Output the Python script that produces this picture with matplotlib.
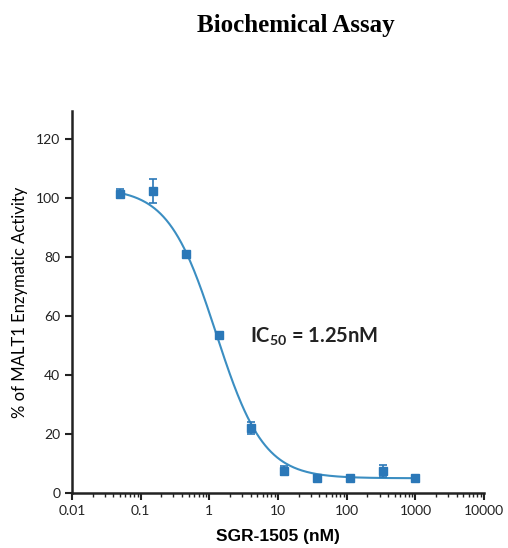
import numpy as np
import matplotlib.pyplot as plt
from matplotlib.ticker import LogLocator, FixedLocator, NullFormatter

# data
conc_nm = [0.05, 0.15, 0.45, 1.37, 4.1, 12.3, 37, 111, 333, 1000]
activity = [101.5, 102.5, 81, 53.5, 22, 7.5, 5, 5, 7.5, 5]
activity_err = [1.5, 4, 0.8, 0.8, 2, 1.5, 0.6, 0.6, 2, 0.6]

# 4-parameter logistic fit parameters
fit_top = 103.5
fit_bottom = 5.0
fit_ic50 = 1.25
fit_hill = 1.25

x_ticks = [0.01, 0.1, 1, 10, 100, 1000, 10000]
x_ticklabels = ['0.01', '0.1', '1', '10', '100', '1000', '10000']
y_ticks = [0, 20, 40, 60, 80, 100, 120]

blue_pt = '#2b78b8'
blue_line = '#3b8ec2'

plt.rcParams['mathtext.fontset'] = 'custom'
plt.rcParams['mathtext.rm'] = 'Lato'
plt.rcParams['mathtext.it'] = 'Lato'
plt.rcParams['mathtext.bf'] = 'Lato:bold'

fig = plt.figure(figsize=(5.08, 5.48), dpi=100)
ax = fig.add_axes([0.1417, 0.1004, 0.8113, 0.6966])

xs = np.logspace(np.log10(0.05), np.log10(1000), 300)
ys = fit_bottom + (fit_top - fit_bottom) / (1 + (xs / fit_ic50) ** fit_hill)
ax.plot(xs, ys, color=blue_line, lw=1.5, zorder=2)

ax.errorbar(conc_nm, activity, yerr=activity_err, fmt='s', color=blue_pt,
            ms=5.5, capsize=3, elinewidth=1.2, capthick=1.2, zorder=3)

ax.set_xscale('log')
ax.set_xlim(0.01, 10000)
ax.set_ylim(0, 129.5)
ax.xaxis.set_major_locator(FixedLocator(x_ticks))
ax.set_xticklabels(x_ticklabels)
ax.xaxis.set_minor_locator(LogLocator(base=10, subs=np.arange(2, 10)))
ax.xaxis.set_minor_formatter(NullFormatter())
ax.set_yticks(y_ticks)

for s in ['top', 'right']:
    ax.spines[s].set_visible(False)
for s in ['left', 'bottom']:
    ax.spines[s].set_linewidth(1.8)
    ax.spines[s].set_color('#222222')

ax.tick_params(axis='both', which='major', length=5, width=1.5,
               labelsize=10, colors='#222222')
ax.tick_params(axis='x', which='minor', length=3, width=1.0, colors='#222222')
for lbl in ax.get_xticklabels() + ax.get_yticklabels():
    lbl.set_family('Lato')

ax.set_xlabel('SGR-1505 (nM)', fontsize=12.5, fontweight='bold',
              family='Liberation Sans', labelpad=9)
ax.set_ylabel('% of MALT1 Enzymatic Activity', fontsize=12,
              family='Lato', labelpad=6)

ax.text(0.432, 0.41, r'$\mathbf{IC_{50}}$ = 1.25nM', transform=ax.transAxes,
        fontsize=14.5, family='Lato', fontweight='bold', color='#222222',
        va='center')

fig.text(0.583, 0.954, 'Biochemical Assay', ha='center', va='center',
         fontsize=18, fontweight='bold', family='Liberation Serif')

fig.savefig('out.png', dpi=100)
